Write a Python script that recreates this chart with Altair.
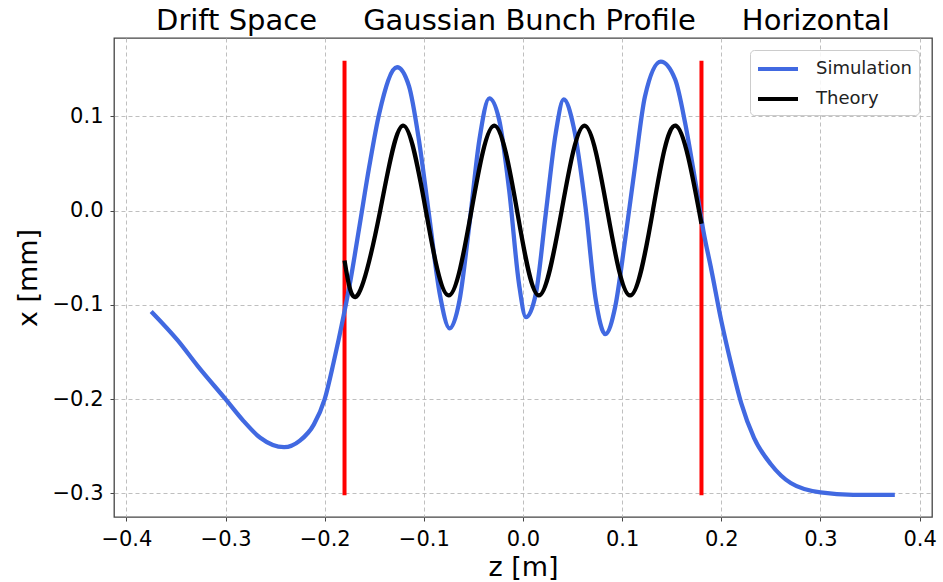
import altair as alt
import pandas as pd

# ---- data ----
sim_z = [-0.375, -0.348, -0.328, -0.300, -0.282, -0.265, -0.241, -0.225, -0.211, -0.200,
         -0.191, -0.181, -0.174, -0.165, -0.155, -0.145, -0.127, -0.115, -0.105, -0.095,
         -0.084, -0.074, -0.064, -0.054, -0.044, -0.034, -0.024, -0.014, -0.004, 0.003,
         0.013, 0.023, 0.033, 0.041, 0.051, 0.063, 0.073, 0.083, 0.093, 0.103,
         0.113, 0.123, 0.139, 0.1535, 0.1635, 0.1736, 0.182, 0.190, 0.200, 0.210,
         0.220, 0.233, 0.250, 0.270, 0.300, 0.333, 0.375]
sim_x = [-0.107, -0.138, -0.165, -0.200, -0.223, -0.241, -0.251, -0.244, -0.227, -0.200,
         -0.161, -0.112, -0.074, -0.017, 0.047, 0.103, 0.152, 0.132, 0.075, -0.003,
         -0.088, -0.125, -0.095, -0.014, 0.075, 0.119, 0.096, 0.022, -0.078, -0.113,
         -0.088, -0.003, 0.082, 0.118, 0.089, 0.004, -0.092, -0.131, -0.102, -0.031,
         0.047, 0.121, 0.158, 0.139, 0.093, 0.032, -0.022, -0.063, -0.117, -0.163,
         -0.204, -0.241, -0.269, -0.289, -0.299, -0.3015, -0.3015]

theory_z = [-0.180, -0.167, -0.144, -0.121, -0.098, -0.075, -0.052, -0.029, -0.006,
            0.016, 0.039, 0.062, 0.085, 0.108, 0.131, 0.154, 0.180]
theory_x = [-0.053, -0.090, 0.000, 0.090, 0.000, -0.090, 0.000, 0.090, 0.000,
            -0.090, 0.000, 0.090, 0.000, -0.090, 0.000, 0.090, -0.014]

sep_z = [-0.18, 0.18]
sep_lo = [-0.302, -0.302]
sep_hi = [0.159, 0.159]

x_ticks = [-0.4, -0.3, -0.2, -0.1, 0.0, 0.1, 0.2, 0.3, 0.4]
y_ticks = [-0.3, -0.2, -0.1, 0.0, 0.1]

series_names = ["Simulation", "Theory"]
series_colors = ["#4169E1", "#000000"]

NB = "\u00a0"
title_text = "Drift Space" + NB * 5 + "Gaussian Bunch Profile" + NB * 5 + "Horizontal"

# ---- tables ----
sim = pd.DataFrame({"z": sim_z, "x": sim_x, "series": series_names[0]})
theo = pd.DataFrame({"z": theory_z, "x": theory_x, "series": series_names[1]})
seps = pd.DataFrame({"z": sep_z, "lo": sep_lo, "hi": sep_hi})

FONT = "DejaVu Sans"
W, H = 818, 479

xscale = alt.Scale(domain=[-0.4125, 0.4125], nice=False, zero=False)
yscale = alt.Scale(domain=[-0.325, 0.183], nice=False, zero=False)

xaxis = alt.Axis(values=x_ticks, format=".1f", title="z [m]",
                 titleX=W / 2, titleY=58, titleBaseline="alphabetic",
                 titleAlign="center", labelPadding=7)
yaxis = alt.Axis(values=y_ticks, format=".1f", title="x [mm]",
                 titleX=-78, titleY=H / 2, titleBaseline="alphabetic",
                 titleAlign="center", titleAngle=-90, labelPadding=7)

legend = alt.Legend(title=None, orient="none", legendX=636, legendY=12,
                    symbolType="M-2,0L2,0", symbolSize=400, symbolStrokeWidth=4,
                    symbolOffset=9, labelOffset=26, labelFontSize=18,
                    labelFont=FONT, labelColor="#222", padding=7, rowPadding=9,
                    strokeColor="#cccccc", fillColor="rgba(255,255,255,0.85)",
                    cornerRadius=4)

color = alt.Color("series:N",
                  scale=alt.Scale(domain=series_names, range=series_colors),
                  legend=legend)

rules = alt.Chart(seps).mark_rule(color="#ff0000", strokeWidth=4).encode(
    x=alt.X("z:Q", scale=xscale, axis=xaxis),
    y=alt.Y("lo:Q", scale=yscale, axis=yaxis),
    y2="hi:Q",
)

sim_line = alt.Chart(sim).mark_line(strokeWidth=4.3, interpolate="monotone").encode(
    x=alt.X("z:Q", scale=xscale, axis=xaxis),
    y=alt.Y("x:Q", scale=yscale, axis=yaxis),
    color=color,
)

theo_line = alt.Chart(theo).mark_line(strokeWidth=4.3, interpolate="natural").encode(
    x=alt.X("z:Q", scale=xscale, axis=xaxis),
    y=alt.Y("x:Q", scale=yscale, axis=yaxis),
    color=color,
)

chart = alt.layer(rules, sim_line, theo_line).properties(
    width=W, height=H,
    background="white",
    autosize=alt.AutoSizeParams(type="none"),
    padding={"left": 114, "top": 38, "right": 11, "bottom": 65},
    title=alt.TitleParams(text=title_text, font=FONT, fontSize=29,
                          fontWeight="normal", color="black", anchor="middle",
                          baseline="bottom", offset=4, dy=31),
).configure_view(
    stroke="#444444", strokeWidth=1.3
).configure_axis(
    grid=True, gridColor="#b8b8b8", gridDash=[4, 3], gridWidth=0.9,
    domain=False, tickColor="#444444", tickSize=4, tickWidth=1,
    labelFont=FONT, labelFontSize=21, labelColor="black",
    titleFont=FONT, titleFontSize=27, titleFontWeight="normal", titleColor="black",
)

chart.save("out.html", embed_options={"renderer": "svg", "actions": False})
